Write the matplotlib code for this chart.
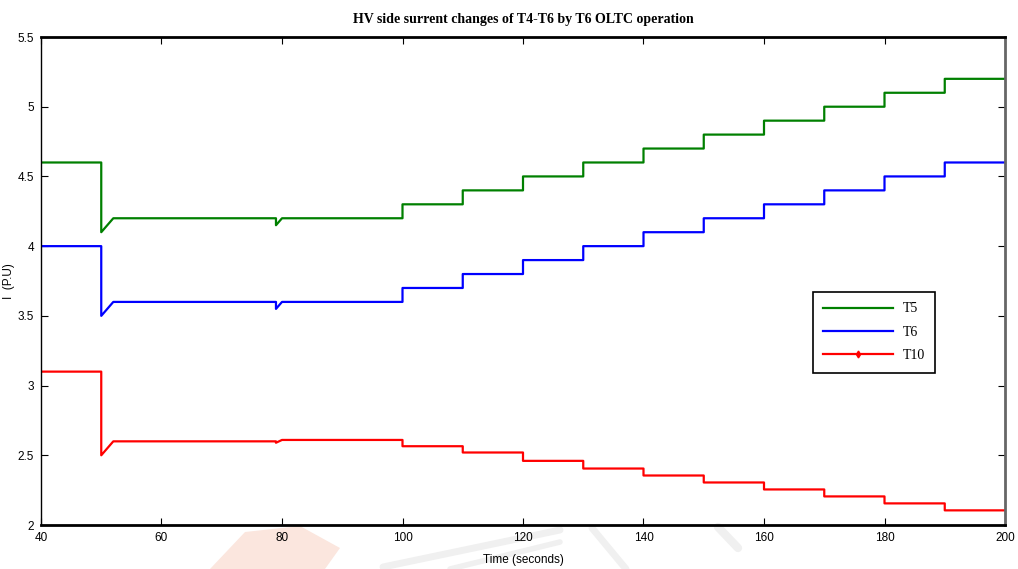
import matplotlib
matplotlib.use("Agg")
import matplotlib.pyplot as plt
from matplotlib.lines import Line2D

# breakpoints of the three HV-side currents (time in s, current in p.u.)
t5_time = [40, 50, 50, 52, 79, 79, 80, 100, 100, 110, 110, 120, 120, 130, 130,
           140, 140, 150, 150, 160, 160, 170, 170, 180, 180, 190, 190, 200]
t5_curr = [4.6, 4.6, 4.1, 4.2, 4.2, 4.15, 4.2, 4.2, 4.3, 4.3, 4.4, 4.4, 4.5, 4.5, 4.6,
           4.6, 4.7, 4.7, 4.8, 4.8, 4.9, 4.9, 5.0, 5.0, 5.1, 5.1, 5.2, 5.2]

t6_time = [40, 50, 50, 52, 79, 79, 80, 100, 100, 110, 110, 120, 120, 130, 130,
           140, 140, 150, 150, 160, 160, 170, 170, 180, 180, 190, 190, 200]
t6_curr = [4.0, 4.0, 3.5, 3.6, 3.6, 3.55, 3.6, 3.6, 3.7, 3.7, 3.8, 3.8, 3.9, 3.9, 4.0,
           4.0, 4.1, 4.1, 4.2, 4.2, 4.3, 4.3, 4.4, 4.4, 4.5, 4.5, 4.6, 4.6]

t10_time = [40, 50, 50, 52, 79, 79, 80, 100, 100, 110, 110, 120, 120, 130, 130,
            140, 140, 150, 150, 160, 160, 170, 170, 180, 180, 190, 190, 200]
t10_curr = [3.1, 3.1, 2.5, 2.6, 2.6, 2.59, 2.61, 2.61, 2.565, 2.565, 2.52, 2.52, 2.46, 2.46, 2.405,
            2.405, 2.355, 2.355, 2.305, 2.305, 2.255, 2.255, 2.205, 2.205, 2.155, 2.155, 2.105, 2.105]

x_ticks = [40, 60, 80, 100, 120, 140, 160, 180, 200]
y_ticks = [2, 2.5, 3, 3.5, 4, 4.5, 5, 5.5]
y_tick_labels = ["2", "2.5", "3", "3.5", "4", "4.5", "5", "5.5"]

sans = ["Liberation Sans", "DejaVu Sans"]
serif = ["Liberation Serif", "DejaVu Serif"]

fig = plt.figure(figsize=(10.18, 5.69), dpi=100)

# faint stamp behind the axes
bg = fig.add_axes([0, 0, 1, 1], zorder=-5)
bg.set_xlim(0, 1018)
bg.set_ylim(569, 0)
bg.axis("off")
bg.fill([210, 245, 300, 340, 325, 270, 220],
        [569, 532, 526, 548, 569, 569, 569], color="#fbe6de", lw=0)
for xs, ys, w in [([383, 560], [567, 530], 5), ([450, 560], [569, 542], 4),
                  ([592, 626], [528, 569], 5), ([718, 738], [527, 548], 6)]:
    bg.plot(xs, ys, color="#f0f0f0", lw=w, solid_capstyle="round")

ax = fig.add_axes([41 / 1018, 44 / 569, 964 / 1018, 488 / 569])
ax.patch.set_alpha(0)

ax.plot(t5_time, t5_curr, color="#008000", lw=1.6)
ax.plot(t6_time, t6_curr, color="#0000ff", lw=1.6)
ax.plot(t10_time, t10_curr, color="#ff0000", lw=1.6)

ax.set_xlim(40, 200)
ax.set_ylim(2, 5.5)
ax.set_xticks(x_ticks)
ax.set_yticks(y_ticks)
ax.set_yticklabels(y_tick_labels)
ax.tick_params(direction="in", length=5, width=0.8, top=True, right=True,
               labelsize=8.5)
ax.tick_params(axis="y", pad=5)
ax.tick_params(axis="x", pad=5)
for lab in ax.get_xticklabels() + ax.get_yticklabels():
    lab.set_family(sans)

ax.spines["top"].set_linewidth(2.0)
ax.spines["bottom"].set_linewidth(2.0)
ax.spines["left"].set_linewidth(1.0)
ax.spines["right"].set_linewidth(2.0)
ax.spines["right"].set_color("#666666")

ax.set_xlabel("Time (seconds)", family=sans, fontsize=8.5)
ax.xaxis.set_label_coords(0.5, -29 / 488)
ax.set_ylabel("I  (P.U)", family=sans, fontsize=8.5)
ax.yaxis.set_label_coords(-26 / 964, 0.5)
ax.set_title("HV side surrent changes of T4-T6 by T6 OLTC operation",
             family=serif, fontweight="bold", fontsize=10, pad=10)

handles = [
    Line2D([], [], color="#008000", lw=1.6),
    Line2D([], [], color="#0000ff", lw=1.6),
    Line2D([], [], color="#ff0000", lw=1.6, marker="d", markersize=3.5,
           markevery=[1]),
]
handles[2].set_data([0, 0.5, 1], [0, 0, 0])
leg = ax.legend(handles, ["T5", "T6", "T10"], loc="upper left",
                bbox_to_anchor=((813 - 41) / 964, (525 - 292) / 488),
                prop={"family": serif, "size": 10}, fancybox=False,
                edgecolor="black", framealpha=1, handlelength=5.0,
                handletextpad=0.7, borderpad=0.75, labelspacing=0.75,
                borderaxespad=0)
leg.get_frame().set_linewidth(1.2)
leg._legend_box.align = "left"

fig.savefig("out.png", dpi=100)
